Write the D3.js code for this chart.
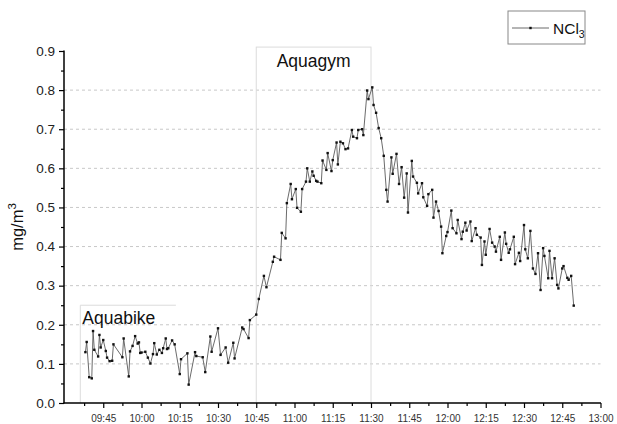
<!DOCTYPE html>
<html>
<head>
<meta charset="utf-8">
<script src="https://cdn.jsdelivr.net/npm/d3@7"></script>
<style>
  body { margin: 0; background: #fff; }
  text { font-family: "Liberation Sans", Arial, sans-serif; }
</style>
</head>
<body>
<div id="chart"></div>
<script>
// measurement times (hh:mm:ss) and NCl3 concentration (mg/m3)
var times = [
  "09:38:00","09:38:30","09:39:30","09:40:30","09:41:00","09:41:30","09:43:00","09:43:30","09:44:00","09:45:00",
  "09:46:00","09:46:30","09:47:30","09:48:30","09:49:00","09:52:30","09:53:00","09:55:00","09:55:30","09:56:30",
  "09:57:30","09:58:30","09:59:00","09:59:30","10:00:00","10:01:30","10:02:30","10:03:30","10:04:30","10:05:00",
  "10:06:00","10:07:00","10:08:00","10:08:30","10:09:30","10:10:00","10:10:30","10:12:00","10:13:00","10:15:00",
  "10:15:30","10:18:00","10:18:30","10:21:00","10:21:30","10:24:00","10:25:00","10:27:00","10:27:30","10:30:00",
  "10:31:00","10:33:00","10:34:00","10:36:00","10:36:30","10:39:30","10:40:00","10:42:00","10:42:30","10:45:00",
  "10:46:00","10:48:00","10:49:00","10:51:30","10:52:00","10:54:30","10:55:00","10:56:30","10:57:00","10:58:30",
  "10:59:00","11:00:30","11:01:00","11:02:30","11:03:00","11:04:30","11:05:00","11:06:00","11:07:00","11:07:30",
  "11:08:30","11:09:00","11:10:30","11:11:00","11:12:30","11:13:00","11:14:30","11:15:00","11:16:30","11:17:00",
  "11:18:00","11:19:00","11:20:00","11:21:00","11:22:30","11:23:00","11:24:30","11:25:00","11:26:30","11:27:00",
  "11:28:30","11:29:00","11:30:30","11:31:00","11:32:00","11:33:00","11:34:00","11:35:00","11:36:00","11:36:30",
  "11:38:00","11:38:30","11:40:00","11:41:00","11:42:00","11:43:00","11:44:00","11:44:30","11:46:00","11:46:30",
  "11:48:00","11:48:30","11:50:00","11:50:30","11:52:00","11:52:30","11:54:00","11:54:30","11:55:30","11:56:30",
  "11:57:30","11:58:00","11:59:30","12:00:00","12:01:30","12:02:00","12:03:30","12:04:00","12:05:30","12:06:00",
  "12:07:00","12:07:30","12:09:00","12:09:30","12:11:00","12:11:30","12:13:00","12:13:30","12:14:30","12:15:00",
  "12:16:30","12:17:30","12:18:30","12:19:00","12:20:30","12:21:00","12:22:30","12:23:00","12:24:00","12:24:30",
  "12:26:00","12:26:30","12:28:00","12:28:30","12:30:00","12:30:30","12:31:30","12:32:30","12:33:30","12:34:30",
  "12:35:30","12:36:30","12:37:30","12:38:00","12:39:30","12:40:00","12:41:00","12:42:00","12:43:00","12:43:30",
  "12:45:00","12:45:30","12:47:00","12:47:30","12:48:30","12:49:30"
];
var ncl3 = [
  0.130,0.156,0.066,0.063,0.184,0.136,0.119,0.174,0.142,0.161,
  0.133,0.116,0.107,0.108,0.150,0.117,0.165,0.068,0.132,0.146,
  0.171,0.152,0.155,0.128,0.129,0.131,0.116,0.101,0.125,0.153,
  0.124,0.136,0.128,0.140,0.165,0.138,0.140,0.160,0.150,0.074,
  0.112,0.127,0.047,0.130,0.120,0.117,0.079,0.170,0.131,0.191,
  0.123,0.142,0.103,0.154,0.114,0.193,0.189,0.166,0.212,0.226,
  0.266,0.325,0.296,0.361,0.374,0.366,0.435,0.421,0.511,0.560,
  0.521,0.547,0.499,0.489,0.547,0.566,0.600,0.566,0.592,0.581,
  0.568,0.566,0.562,0.620,0.596,0.639,0.593,0.621,0.666,0.610,
  0.668,0.664,0.649,0.651,0.698,0.681,0.677,0.698,0.700,0.685,
  0.799,0.777,0.807,0.762,0.742,0.703,0.677,0.632,0.545,0.515,
  0.628,0.586,0.637,0.560,0.603,0.525,0.587,0.487,0.619,0.579,
  0.563,0.536,0.562,0.526,0.504,0.534,0.545,0.474,0.515,0.491,
  0.451,0.383,0.427,0.437,0.492,0.447,0.434,0.468,0.419,0.438,
  0.461,0.441,0.464,0.414,0.447,0.430,0.423,0.353,0.413,0.379,
  0.445,0.410,0.400,0.387,0.425,0.366,0.436,0.407,0.384,0.393,
  0.425,0.355,0.384,0.363,0.455,0.393,0.370,0.440,0.344,0.330,
  0.383,0.289,0.396,0.376,0.319,0.389,0.319,0.370,0.302,0.293,
  0.344,0.350,0.320,0.315,0.325,0.249
];

// axis ticks
var xTickLabels = ["09:45","10:00","10:15","10:30","10:45","11:00","11:15","11:30","11:45","12:00","12:15","12:30","12:45","13:00"];
var yTicks = [0.0,0.1,0.2,0.3,0.4,0.5,0.6,0.7,0.8,0.9];

// activity periods drawn as boxes
var activityNames = ["Aquabike","Aquagym"];
var activityStart = ["09:36:00","10:45:00"];
var activityEnd = ["10:13:30","11:30:00"];
var activityTop = [0.25,0.91];

var width = 617, height = 424;
var parse = d3.timeParse("%H:%M:%S");
var parseHM = d3.timeParse("%H:%M");

var data = times.map(function(t, i) { return {t: parse(t), v: ncl3[i]}; });

var svg = d3.select("#chart").append("svg")
  .attr("width", width)
  .attr("height", height);

var x = d3.scaleTime()
  .domain([parse("09:30:00"), parse("13:00:00")])
  .range([65, 600.5]);

var y = d3.scaleLinear()
  .domain([0, 0.9])
  .range([403, 51]);

var left = 64, right = 600.5;

// dashed horizontal grid
svg.append("g").selectAll("line")
  .data(yTicks.filter(function(d) { return d > 0 && d < 0.9; }))
  .enter().append("line")
  .attr("x1", left).attr("x2", right)
  .attr("y1", function(d) { return y(d); })
  .attr("y2", function(d) { return y(d); })
  .attr("stroke", "#c8c8c8")
  .attr("stroke-width", 1)
  .attr("stroke-dasharray", "3,3");

// activity boxes
activityNames.forEach(function(name, i) {
  var x0 = x(parse(activityStart[i])), x1 = x(parse(activityEnd[i]));
  var yt = y(activityTop[i]);
  if (i == 0) {
    svg.append("path")
      .attr("d", "M" + x0 + "," + y(0) + "V" + yt + "H" + x1)
      .attr("fill", "none")
      .attr("stroke", "#dcdcdc");
    svg.append("text")
      .attr("x", x0 + 2).attr("y", yt + 19)
      .attr("font-size", 17.5).attr("fill", "#111")
      .text(name);
  } else {
    svg.append("rect")
      .attr("x", x0).attr("y", yt)
      .attr("width", x1 - x0).attr("height", y(0) - yt)
      .attr("fill", "none")
      .attr("stroke", "#dcdcdc");
    svg.append("text")
      .attr("x", (x0 + x1) / 2).attr("y", yt + 20)
      .attr("text-anchor", "middle")
      .attr("font-size", 17.5).attr("fill", "#111")
      .text(name);
  }
});

// series line
var line = d3.line()
  .x(function(d) { return x(d.t); })
  .y(function(d) { return y(d.v); });

svg.append("path")
  .datum(data)
  .attr("d", line)
  .attr("fill", "none")
  .attr("stroke", "#5a5a5a")
  .attr("stroke-width", 0.9);

svg.append("g").selectAll("rect")
  .data(data)
  .enter().append("rect")
  .attr("x", function(d) { return x(d.t) - 1.2; })
  .attr("y", function(d) { return y(d.v) - 1.2; })
  .attr("width", 2.4).attr("height", 2.4)
  .attr("fill", "#111");

// x axis
var xMajor = xTickLabels.map(function(s) { return parseHM(s); });
var xMinor = d3.timeMinute.every(15).range(parse("09:30:00"), parse("13:00:01"))
  .map(function(d) { return d3.timeSecond.offset(d, 450); })
  .filter(function(d) { return d < parse("13:00:00"); });

var xAxis = svg.append("g")
  .attr("transform", "translate(0," + y(0) + ")")
  .call(d3.axisBottom(x).tickValues(xMajor).tickFormat(d3.timeFormat("%H:%M")).tickSize(5).tickPadding(7));
xAxis.select(".domain").remove();
xAxis.selectAll("text").attr("font-size", 10).attr("fill", "#333").style("font-family", "'Liberation Sans', Arial, sans-serif");
xAxis.selectAll("line").attr("stroke-width", 1.2);

var xAxisMinor = svg.append("g")
  .attr("transform", "translate(0," + y(0) + ")")
  .call(d3.axisBottom(x).tickValues(xMinor).tickFormat("").tickSize(3));
xAxisMinor.select(".domain").remove();
xAxisMinor.selectAll("line").attr("stroke-width", 1.2);

svg.append("line")
  .attr("x1", left - 0.5).attr("x2", right + 0.5)
  .attr("y1", y(0)).attr("y2", y(0))
  .attr("stroke", "#000").attr("stroke-width", 1.5);

// y axis
var yAxis = svg.append("g")
  .attr("transform", "translate(" + left + ",0)")
  .call(d3.axisLeft(y).tickValues(yTicks).tickFormat(d3.format(".1f")).tickSize(5).tickPadding(4));
yAxis.select(".domain").remove();
yAxis.selectAll("text").attr("font-size", 13.5).attr("fill", "#222").style("font-family", "'Liberation Sans', Arial, sans-serif");
yAxis.selectAll("line").attr("stroke-width", 1.2);

var yMinor = yTicks.slice(0, -1).map(function(d) { return d + 0.05; });
var yAxisMinor = svg.append("g")
  .attr("transform", "translate(" + left + ",0)")
  .call(d3.axisLeft(y).tickValues(yMinor).tickFormat("").tickSize(3));
yAxisMinor.select(".domain").remove();
yAxisMinor.selectAll("line").attr("stroke-width", 1.2);

svg.append("line")
  .attr("x1", left).attr("x2", left)
  .attr("y1", y(0.9) - 0.5).attr("y2", y(0) + 0.5)
  .attr("stroke", "#000").attr("stroke-width", 1.5);

// y axis title
var yt = svg.append("text")
  .attr("transform", "translate(23," + y(0.45) + ") rotate(-90)")
  .attr("text-anchor", "middle")
  .attr("font-size", 16.5)
  .attr("fill", "#111");
yt.append("tspan").text("mg/m");
yt.append("tspan").attr("dy", -7).attr("font-size", 11.5).text("3");

// legend
var lg = svg.append("g").attr("transform", "translate(508,11)");
lg.append("rect")
  .attr("width", 77).attr("height", 33)
  .attr("fill", "#fff").attr("stroke", "#888").attr("stroke-width", 1);
lg.append("line")
  .attr("x1", 4).attr("x2", 41).attr("y1", 17).attr("y2", 17)
  .attr("stroke", "#5a5a5a").attr("stroke-width", 0.9);
lg.append("rect")
  .attr("x", 21.3).attr("y", 15.8).attr("width", 2.4).attr("height", 2.4)
  .attr("fill", "#111");
var lt = lg.append("text")
  .attr("x", 45).attr("y", 23)
  .attr("font-size", 15.5).attr("fill", "#111");
lt.append("tspan").text("NCl");
lt.append("tspan").attr("dy", 4).attr("font-size", 10.5).text("3");
</script>
</body>
</html>
